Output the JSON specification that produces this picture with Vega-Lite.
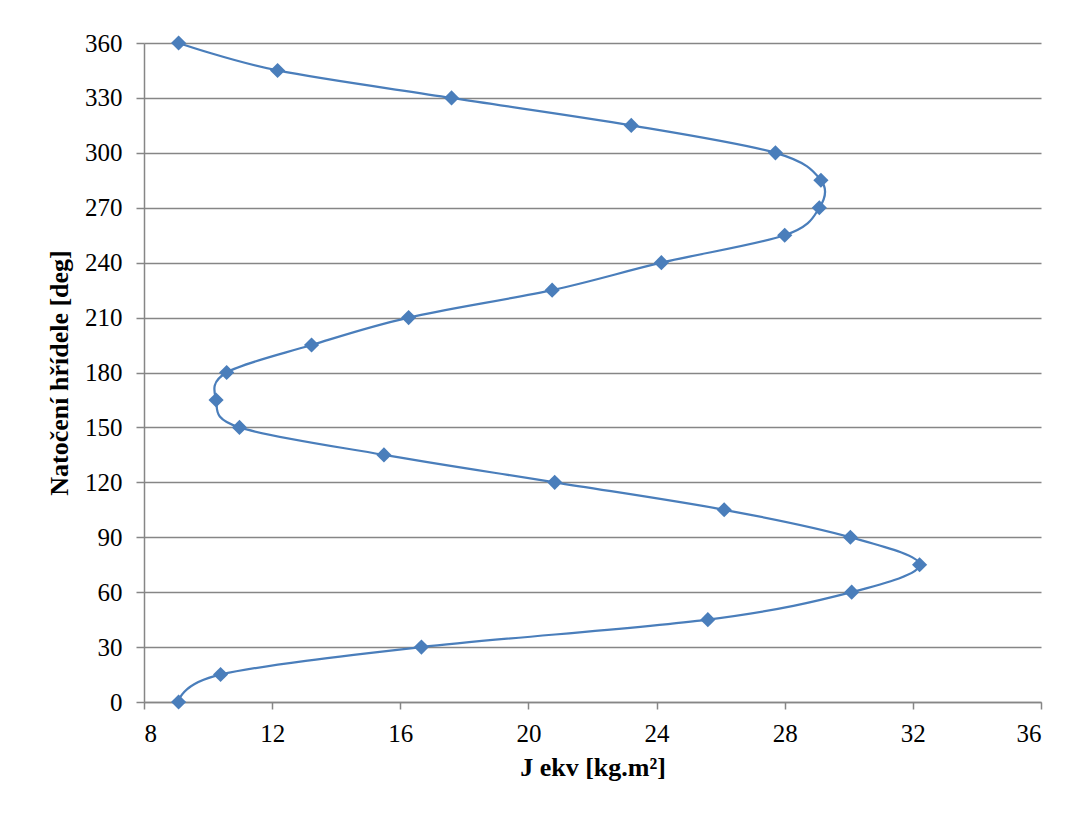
{
  "$schema": "https://vega.github.io/schema/vega-lite/v6.json",
  "autosize": "none",
  "width": 897,
  "height": 659,
  "padding": {"left": 144, "top": 43, "right": 28, "bottom": 111},
  "background": "white",
  "config": {
    "view": {"stroke": null},
    "font": "Liberation Serif"
  },
  "data": {
    "values": [
      {"angle": 0, "J": 9.08},
      {"angle": 15, "J": 10.39},
      {"angle": 30, "J": 16.66},
      {"angle": 45, "J": 25.6},
      {"angle": 60, "J": 30.09},
      {"angle": 75, "J": 32.21},
      {"angle": 90, "J": 30.05},
      {"angle": 105, "J": 26.11},
      {"angle": 120, "J": 20.82},
      {"angle": 135, "J": 15.49},
      {"angle": 150, "J": 10.98},
      {"angle": 165, "J": 10.25},
      {"angle": 180, "J": 10.58},
      {"angle": 195, "J": 13.23},
      {"angle": 210, "J": 16.26},
      {"angle": 225, "J": 20.74},
      {"angle": 240, "J": 24.15},
      {"angle": 255, "J": 28.0},
      {"angle": 270, "J": 29.08},
      {"angle": 285, "J": 29.13},
      {"angle": 300, "J": 27.71},
      {"angle": 315, "J": 23.21},
      {"angle": 330, "J": 17.6},
      {"angle": 345, "J": 12.17},
      {"angle": 360, "J": 9.08}
    ]
  },
  "encoding": {
    "x": {
      "field": "J",
      "type": "quantitative",
      "scale": {"domain": [8, 36], "nice": false, "zero": false},
      "axis": {
        "title": "J ekv [kg.m²]",
        "values": [8, 12, 16, 20, 24, 28, 32, 36],
        "grid": false,
        "domainColor": "#868686",
        "domainWidth": 1.5,
        "tickColor": "#868686",
        "tickWidth": 1.5,
        "tickSize": 7,
        "labelFont": "Liberation Serif",
        "labelFontSize": 25,
        "labelColor": "black",
        "labelPadding": 12,
        "titleFont": "Liberation Serif",
        "titleFontSize": 26,
        "titleFontWeight": "bold",
        "titleColor": "black",
        "titlePadding": 8
      }
    },
    "y": {
      "field": "angle",
      "type": "quantitative",
      "scale": {"domain": [0, 360], "nice": false},
      "axis": {
        "title": "Natočení hřídele [deg]",
        "values": [0, 30, 60, 90, 120, 150, 180, 210, 240, 270, 300, 330, 360],
        "grid": true,
        "gridColor": "#868686",
        "gridWidth": 1.5,
        "domainColor": "#868686",
        "domainWidth": 1.5,
        "tickColor": "#868686",
        "tickWidth": 1.5,
        "tickSize": 8,
        "labelFont": "Liberation Serif",
        "labelFontSize": 25,
        "labelColor": "black",
        "labelPadding": 14,
        "titleFont": "Liberation Serif",
        "titleFontSize": 26,
        "titleFontWeight": "bold",
        "titleColor": "black",
        "titlePadding": 12
      }
    },
    "order": {"field": "angle", "type": "quantitative"}
  },
  "layer": [
    {
      "mark": {"type": "line", "interpolate": "cardinal", "color": "#4a7ebb", "strokeWidth": 2.25}
    },
    {
      "mark": {"type": "point", "shape": "diamond", "filled": true, "size": 230, "color": "#4a7ebb", "opacity": 1}
    }
  ]
}
